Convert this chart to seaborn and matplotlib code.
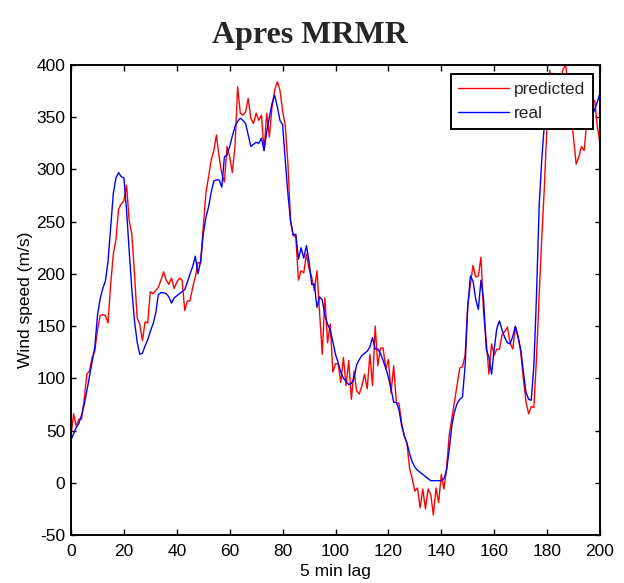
import matplotlib
matplotlib.use("Agg")
import matplotlib.pyplot as plt
import seaborn as sns
import pandas as pd
import numpy as np

lag = list(range(0, 201))

real = [41, 47, 53, 57, 65, 75, 88, 102, 116, 130,
        160, 176, 186, 193, 212, 245, 277, 292, 297, 293,
        292, 261, 222, 185, 155, 135, 123, 124, 131, 137,
        145, 152, 162, 180, 182, 182, 181, 178, 172, 177,
        179, 181, 183, 185, 192, 200, 207, 217, 200, 212,
        238, 254, 264, 278, 289, 290, 290, 283, 312, 314,
        322, 332, 341, 346, 349, 347, 344, 333, 322, 324,
        326, 325, 330, 318, 336, 350, 363, 371, 360, 347,
        343, 309, 277, 251, 237, 238, 214, 225, 215, 227,
        212, 190, 190, 168, 178, 175, 160, 152, 146, 135,
        123, 115, 106, 100, 97, 94, 95, 100, 113, 118,
        122, 124, 126, 130, 139, 128, 128, 124, 117, 110,
        101, 90, 77, 77, 70, 55, 45, 38, 28, 20,
        15, 12, 10, 8, 6, 4, 2, 2, 2, 2,
        2, 4, 12, 32, 55, 68, 76, 80, 82, 112,
        168, 198, 193, 176, 166, 194, 175, 128, 120, 104,
        128, 148, 155, 146, 139, 134, 133, 140, 150, 140,
        128, 107, 87, 80, 79, 112, 180, 265, 310, 345,
        375, 388, 392, 386, 380, 374, 370, 366, 368, 372,
        366, 360, 356, 352, 350, 352, 354, 352, 357, 365,
        373]

predicted = [45, 66, 54, 61, 61, 80, 104, 107, 120, 126,
             146, 160, 161, 160, 153, 190, 219, 233, 262, 267,
             270, 285, 251, 238, 200, 158, 152, 136, 154, 153,
             183, 181, 184, 187, 194, 202, 194, 190, 196, 186,
             192, 196, 194, 165, 174, 174, 187, 197, 211, 210,
             245, 277, 293, 309, 318, 333, 312, 296, 288, 322,
             312, 297, 322, 379, 354, 352, 355, 368, 349, 344,
             354, 347, 352, 318, 354, 331, 360, 376, 384, 376,
             356, 342, 306, 251, 237, 235, 194, 203, 201, 219,
             205, 197, 184, 203, 162, 123, 177, 134, 152, 106,
             114, 114, 96, 120, 93, 117, 80, 107, 88, 85,
             93, 104, 90, 123, 93, 150, 112, 129, 129, 109,
             118, 86, 112, 77, 76, 57, 45, 38, 14, 4,
             -8, -5, -24, -6, -25, -6, -11, -31, -5, -19,
             8, -6, 14, 46, 62, 78, 94, 110, 111, 122,
             170, 190, 208, 197, 198, 216, 162, 136, 104, 133,
             122, 128, 128, 142, 145, 149, 134, 128, 149, 140,
             126, 100, 78, 66, 73, 72, 120, 180, 235, 285,
             345, 395, 375, 360, 370, 382, 396, 400, 380, 355,
             330, 305, 312, 322, 318, 345, 355, 365, 366, 341,
             325]

xticks = [0, 20, 40, 60, 80, 100, 120, 140, 160, 180, 200]
yticks = [-50, 0, 50, 100, 150, 200, 250, 300, 350, 400]

df = pd.DataFrame({
    "lag": lag + lag,
    "value": predicted + real,
    "series": ["predicted"] * len(lag) + ["real"] * len(lag),
})

sns.set_style("white")
plt.rcParams["font.family"] = ["Liberation Sans Narrow", "Liberation Sans", "DejaVu Sans"]

fig = plt.figure(figsize=(6.24, 5.83), dpi=100)
ax = fig.add_axes([71 / 624, 1 - 535 / 583, 529 / 624, 470 / 583])

sns.lineplot(data=df, x="lag", y="value", hue="series",
             palette={"predicted": "#ff0000", "real": "#0000ff"},
             linewidth=1.0, ax=ax, legend=False)

ax.set_xlim(0, 200)
ax.set_ylim(-50, 400)
ax.set_xticks(xticks)
ax.set_yticks(yticks)
ax.set_xticklabels([str(t) for t in xticks])
ax.set_yticklabels([str(t) for t in yticks])

for s in ax.spines.values():
    s.set_visible(True)
    s.set_color("black")
    s.set_linewidth(1.4)

ax.tick_params(axis="x", direction="in", top=True, bottom=True, length=4.5,
               width=1.0, pad=6.5, labelsize=12.5, colors="black")
ax.tick_params(axis="y", direction="in", left=True, right=True, length=3.6,
               width=1.0, pad=4, labelsize=12.5, colors="black")

ax.set_xlabel("5 min lag", fontsize=12.5, color="black")
ax.set_ylabel("Wind speed (m/s)", fontsize=12.5, color="black")
ax.xaxis.set_label_coords(0.5, -0.062)
ax.yaxis.set_label_coords(-0.072, 0.5)

from matplotlib.lines import Line2D
handles = [Line2D([], [], color="#ff0000", lw=1.0),
           Line2D([], [], color="#0000ff", lw=1.0)]
leg = ax.legend(handles, ["predicted", "real"], loc="upper right",
                bbox_to_anchor=(522 / 529, 1 - 9 / 470), frameon=True,
                fancybox=False, framealpha=1.0, edgecolor="black",
                fontsize=12.5, handlelength=2.9, handletextpad=0.3,
                borderpad=0.45, labelspacing=0.5, borderaxespad=0.0)
leg.get_frame().set_linewidth(1.4)

fig.text(0.497, 1 - 43 / 583, "Apres MRMR", ha="center", va="baseline",
         fontsize=23, fontweight="bold", family=["Liberation Serif", "DejaVu Serif"])

fig.savefig("out.png", dpi=100)
